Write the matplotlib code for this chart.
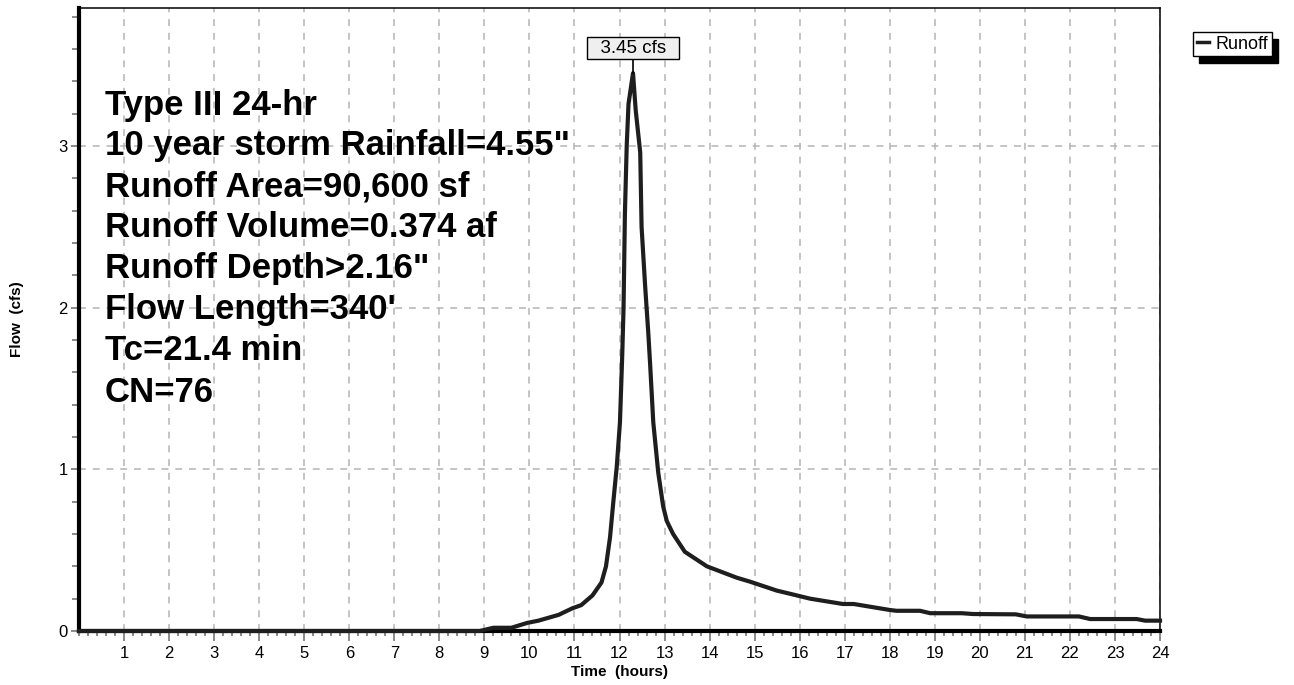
import matplotlib
matplotlib.use("Agg")
import matplotlib.pyplot as plt
from matplotlib.patches import Rectangle
from matplotlib.ticker import MultipleLocator

plt.rcParams['font.family'] = ['Liberation Sans', 'DejaVu Sans']

# hydrograph
hours = [0, 8.9, 9.2, 9.6, 9.95, 10.2, 10.65, 10.95, 11.15, 11.4, 11.6, 11.7,
         11.79, 11.86, 11.94, 12.01, 12.06, 12.09, 12.12, 12.16, 12.2, 12.3,
         12.36, 12.46, 12.49, 12.57, 12.64, 12.68, 12.75, 12.86, 12.97, 13.05,
         13.19, 13.45, 13.94, 14.6, 14.9, 15.49, 15.79, 16.23, 16.96, 17.2,
         18.0, 18.15, 18.67, 18.9, 19.6, 19.85, 20.8, 21.04, 22.2, 22.45,
         23.48, 23.67, 24]
flow = [0, 0, 0.02, 0.02, 0.05, 0.064, 0.10, 0.14, 0.16, 0.22, 0.30, 0.40,
        0.58, 0.79, 1.02, 1.29, 1.7, 2.0, 2.58, 3.0, 3.26, 3.45,
        3.22, 2.96, 2.5, 2.13, 1.84, 1.65, 1.29, 0.98, 0.77, 0.68,
        0.6, 0.49, 0.40, 0.33, 0.305, 0.25, 0.23, 0.20, 0.167, 0.167,
        0.13, 0.125, 0.125, 0.11, 0.11, 0.105, 0.103, 0.09, 0.09, 0.074,
        0.074, 0.064, 0.064]
peak_t = 12.3
peak_q = 3.45
x_ticks = list(range(1, 25))
y_ticks = [0, 1, 2, 3]
info_lines = ['Type III 24-hr',
              '10 year storm Rainfall=4.55"',
              'Runoff Area=90,600 sf',
              'Runoff Volume=0.374 af',
              'Runoff Depth>2.16"',
              "Flow Length=340'",
              'Tc=21.4 min',
              'CN=76']

W, H = 1294, 685
fig = plt.figure(figsize=(W / 100, H / 100), dpi=100)
ax = fig.add_axes([79 / W, 1 - 631 / H, (1160 - 79) / W, (631 - 8) / H])

ax.plot(hours, flow, color='#1e1e1e', lw=3, label='Runoff', zorder=5,
        solid_joinstyle='round', clip_on=False)

ax.set_xlim(0, 24)
ax.set_ylim(0, 3.853)
ax.set_xticks(x_ticks)
ax.set_yticks(y_ticks)
ax.xaxis.set_minor_locator(MultipleLocator(0.2))
ax.yaxis.set_minor_locator(MultipleLocator(0.2))
ax.tick_params(axis='both', which='major', direction='out', colors='#777777',
               labelcolor='black', labelsize=12, width=1.2)
ax.tick_params(axis='x', which='major', length=7, pad=4)
ax.tick_params(axis='y', which='major', length=6, pad=2)
ax.tick_params(axis='x', which='minor', direction='out', length=3.5,
               width=1.2, colors='#777777')
ax.tick_params(axis='y', which='minor', direction='out', length=5,
               width=1.2, colors='#777777')

ax.grid(True, which='major', color='#b4b4b4', linestyle=(0, (4.5, 4.5)), lw=1.1)
ax.set_axisbelow(True)

for side in ['left', 'bottom']:
    ax.spines[side].set_linewidth(3)
for side in ['top', 'right']:
    ax.spines[side].set_linewidth(1.1)

ax.set_xlabel('Time  (hours)', fontsize=11, fontweight='bold')
ax.set_ylabel('Flow  (cfs)', fontsize=11, fontweight='bold')
ax.xaxis.set_label_coords(0.5, -(672 - 631) / 623)
ax.yaxis.set_label_coords(-(79 - 17) / 1081, 0.5)
ax.xaxis.label.set_va('center')
ax.yaxis.label.set_va('center')

for i, line in enumerate(info_lines):
    ax.text(0.024, (631 - 105) / 623 - i * 41 / 623, line,
            transform=ax.transAxes, fontsize=25, fontweight='bold',
            va='center', ha='left', zorder=6)

# peak label
ax.annotate(f'  {peak_q:.2f} cfs  ', xy=(peak_t, peak_q),
            xytext=(peak_t, (631 - 48) / 161.7),
            ha='center', va='center', fontsize=13.5, zorder=7,
            bbox=dict(boxstyle='square,pad=0.15', fc='#efefef', ec='black', lw=1),
            arrowprops=dict(arrowstyle='-', color='black', lw=1.2,
                            shrinkA=0, shrinkB=0))

leg = ax.legend(loc='upper left', bbox_to_anchor=(1193 / W, 1 - 32 / H),
                bbox_transform=fig.transFigure, frameon=True, fancybox=False,
                fontsize=13, handlelength=0.7, handletextpad=0.35,
                borderpad=0.2, borderaxespad=0, framealpha=1)
leg.get_frame().set_edgecolor('black')
leg.get_frame().set_linewidth(1)
leg.get_lines()[0].set_linewidth(2.5)
leg.set_zorder(10)

fig.canvas.draw()
bb = leg.get_window_extent()
shadow = Rectangle((bb.x0 + 6, bb.y0 - 7), bb.width, bb.height,
                   transform=None, facecolor='black', edgecolor='black',
                   zorder=9, clip_on=False)
ax.add_patch(shadow)

fig.savefig('out.png', dpi=100)
